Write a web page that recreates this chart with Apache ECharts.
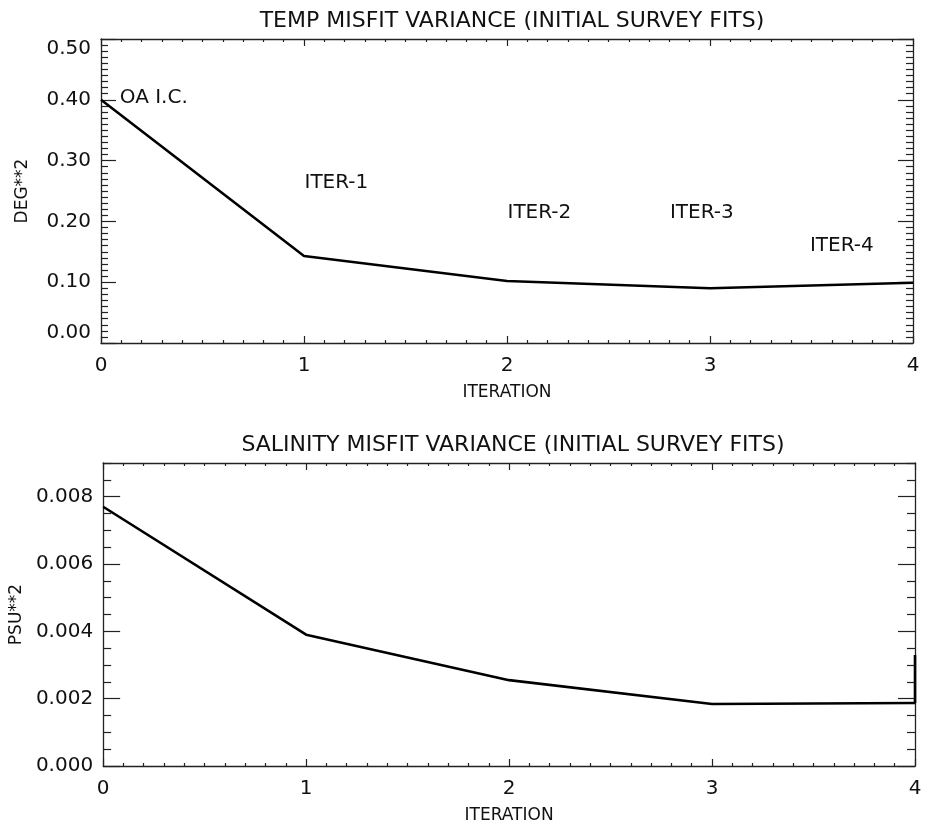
<!DOCTYPE html>
<html lang="en">
  <head>
    <meta charset="UTF-8" />
    <title>Misfit variance</title>
    <style>
      html, body { margin: 0; padding: 0; background: #fff; }
      #app { width: 929px; height: 829px; }
    </style>
  </head>
  <body>
    <div id="app"></div>
    <script src="https://cdn.jsdelivr.net/npm/echarts@6/dist/echarts.min.js"></script>
    <script>
      // data
      var iterations = [0, 1, 2, 3, 4]
      var tempVariance = [0.4, 0.143, 0.102, 0.09, 0.099]
      var salinityVariance = [0.0077, 0.0039, 0.00255, 0.00184, 0.00187]
      // odd vertical stroke at the last iteration of the salinity curve
      var salinitySpike = [0.00187, 0.0033]

      var xTicks = [0, 1, 2, 3, 4]
      var tempTicks = [0, 0.1, 0.2, 0.3, 0.4, 0.5]
      var salTicks = [0, 0.002, 0.004, 0.006, 0.008]

      var noteText = ['OA I.C.', 'ITER-1', 'ITER-2', 'ITER-3', 'ITER-4']
      var noteX = [0.09, 1.0, 2.0, 2.8, 3.49]
      var noteY = [0.403, 0.263, 0.214, 0.214, 0.16]

      var FONT = 'DejaVu Sans'
      var INK = '#111'

      function steps(min, max, step, skip) {
        var out = []
        var n = Math.round((max - min) / step)
        for (var i = 0; i <= n; i++) {
          var v = +(min + i * step).toFixed(6)
          if (skip.indexOf(v) === -1) out.push(v)
        }
        return out
      }

      // four axes per side pair: labelled major, minor, mirrored major, mirrored minor
      function boxAxes(dim, grid, cfg) {
        var sides = dim === 'x' ? ['bottom', 'top'] : ['left', 'right']
        var minors = steps(cfg.min, cfg.max, cfg.minorStep, cfg.majors)
        var list = []
        sides.forEach(function(side, s) {
          ;[true, false].forEach(function(major) {
            var ax = {
              type: 'value',
              gridIndex: grid,
              position: side,
              min: cfg.min,
              max: cfg.max,
              splitLine: { show: false },
              axisLine: { show: major, onZero: false, lineStyle: { color: '#222', width: 1.3 } },
              axisTick: {
                show: true,
                inside: true,
                length: major ? cfg.majorLen : cfg.minorLen,
                customValues: major ? cfg.majors : minors,
                lineStyle: { color: '#222', width: 1.2 }
              },
              axisLabel: { show: false }
            }
            if (major && s === 0) {
              ax.axisLabel = {
                show: true,
                customValues: cfg.majors,
                formatter: cfg.fmt,
                fontFamily: FONT,
                fontSize: 20,
                color: INK,
                margin: cfg.labelMargin,
                verticalAlignMinLabel: cfg.edgeAlign ? 'bottom' : null,
                verticalAlignMaxLabel: cfg.edgeAlign ? 'top' : null
              }
              ax.name = cfg.name
              ax.nameLocation = 'middle'
              ax.nameGap = cfg.nameGap
              ax.nameTextStyle = { fontFamily: FONT, fontSize: 17, color: INK }
            }
            list.push(ax)
          })
        })
        return list
      }

      var chart = echarts.init(document.getElementById('app'))

      var xCfg = {
        min: 0, max: 4, majors: xTicks, minorStep: 0.1,
        majorLen: 7, minorLen: 3, labelMargin: 13,
        fmt: function(v) { return String(v) },
        name: 'ITERATION', nameGap: 41
      }

      var xAxes = boxAxes('x', 0, xCfg).concat(boxAxes('x', 1, xCfg))
      var yAxes = boxAxes('y', 0, {
        min: 0, max: 0.5, majors: tempTicks, minorStep: 0.01,
        majorLen: 15, minorLen: 7, labelMargin: 10, edgeAlign: true,
        fmt: function(v) { return v.toFixed(2) },
        name: 'DEG**2', nameGap: 70
      }).concat(boxAxes('y', 1, {
        min: 0, max: 0.009, majors: salTicks, minorStep: 0.0005,
        majorLen: 17, minorLen: 8, labelMargin: 10,
        fmt: function(v) { return v.toFixed(3) },
        name: 'PSU**2', nameGap: 77
      }))

      var titleStyle = { fontFamily: FONT, fontSize: 22, fontWeight: 'normal', color: INK }

      var option = {
        animation: false,
        backgroundColor: '#fff',
        title: [
          { text: 'TEMP MISFIT VARIANCE (INITIAL SURVEY FITS)', left: 507, top: 5, textAlign: 'center', textStyle: titleStyle },
          { text: 'SALINITY MISFIT VARIANCE (INITIAL SURVEY FITS)', left: 508, top: 429, textAlign: 'center', textStyle: titleStyle }
        ],
        grid: [
          { left: 101, right: 16, top: 39, height: 304 },
          { left: 102, right: 14, top: 463, height: 303 }
        ],
        xAxis: xAxes,
        yAxis: yAxes,
        series: [
          {
            type: 'line',
            xAxisIndex: 0,
            yAxisIndex: 0,
            showSymbol: false,
            lineStyle: { color: '#000', width: 2.6 },
            data: iterations.map(function(x, i) { return [x, tempVariance[i]] })
          },
          {
            type: 'scatter',
            xAxisIndex: 0,
            yAxisIndex: 0,
            symbolSize: 1,
            itemStyle: { color: 'rgba(0,0,0,0)', opacity: 1 },
            silent: true,
            label: {
              show: true,
              position: 'right',
              distance: 0,
              fontFamily: FONT,
              fontSize: 20,
              color: INK,
              opacity: 1,
              formatter: function(p) { return noteText[p.dataIndex] }
            },
            data: noteX.map(function(x, i) { return [x, noteY[i]] })
          },
          {
            type: 'line',
            xAxisIndex: 4,
            yAxisIndex: 4,
            showSymbol: false,
            lineStyle: { color: '#000', width: 2.6 },
            data: iterations.map(function(x, i) { return [x, salinityVariance[i]] })
          },
          {
            type: 'line',
            xAxisIndex: 4,
            yAxisIndex: 4,
            showSymbol: false,
            lineStyle: { color: '#000', width: 2.6 },
            data: salinitySpike.map(function(v) { return [iterations[iterations.length - 1], v] })
          }
        ]
      }
      chart.setOption(option)
    </script>
  </body>
</html>
